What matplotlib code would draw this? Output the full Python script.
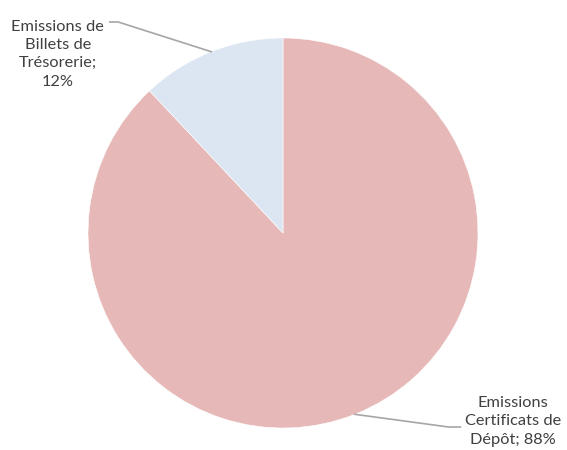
import numpy as np
import matplotlib
matplotlib.use("Agg")
import matplotlib.pyplot as plt

labels = ["Emissions\nCertificats de\nDépôt", "Emissions de\nBillets de\nTrésorerie"]
shares = [88, 12]
colors = ["#E6B8B7", "#DCE6F2"]

# text anchors (data coords, pie radius = 1) and elbow of the leader line
text_pos = [(1.18, -0.965), (-1.155, 0.917)]
elbow_pos = [(0.85, -0.995), (-0.845, 1.082)]
line_end = [(0.91, -0.995), (-0.888, 1.082)]

W, H = 567, 450
fig = plt.figure(figsize=(W / 100, H / 100), dpi=100)
cx, cy, r = 283, 233, 195
ax = fig.add_axes([(cx - r) / W, (H - cy - r) / H, 2 * r / W, 2 * r / H])

wedges, _ = ax.pie(shares, colors=colors, startangle=90, counterclock=False,
                   radius=1, wedgeprops=dict(edgecolor="white", linewidth=0.4))
ax.set_xlim(-1, 1)
ax.set_ylim(-1, 1)
ax.set_aspect("equal")
ax.axis("off")

for w, lab, val, tp, ep, le in zip(wedges, labels, shares, text_pos, elbow_pos, line_end):
    mid = np.deg2rad((w.theta1 + w.theta2) / 2)
    x0, y0 = np.cos(mid), np.sin(mid)
    ax.plot([x0, ep[0], le[0]], [y0, ep[1], le[1]], color="#A6A6A6",
            linewidth=1.2, clip_on=False)
    txt = f"{lab}; {val}%" if lab.startswith("Emissions\n") else f"{lab};\n{val}%"
    ax.text(tp[0], tp[1], txt, ha="center", va="center", fontsize=11.8,
            family=["Lato", "DejaVu Sans"], color="#404040", linespacing=1.4,
            clip_on=False)

fig.savefig("out.png", dpi=100)
